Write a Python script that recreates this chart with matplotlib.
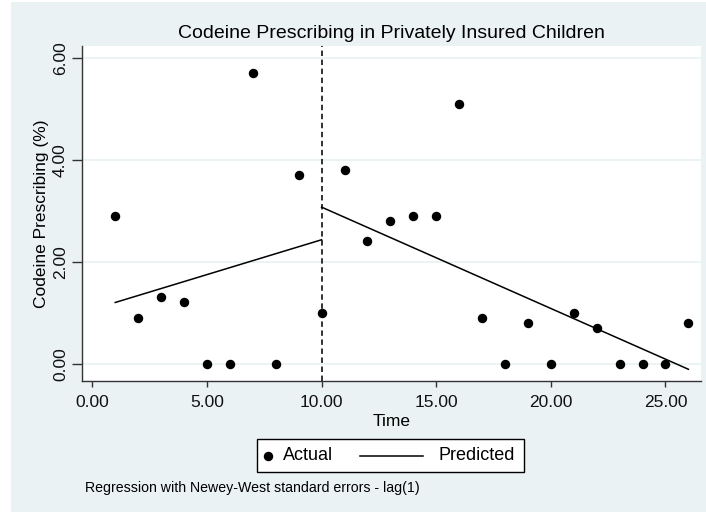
import matplotlib
matplotlib.use("Agg")
import matplotlib.pyplot as plt
from matplotlib.patches import Rectangle
from matplotlib.lines import Line2D

# ---------- data ----------
time = [1, 2, 3, 4, 5, 6, 7, 8, 9, 10, 11, 12, 13,
        14, 15, 16, 17, 18, 19, 20, 21, 22, 23, 24, 25, 26]
actual = [2.90, 0.90, 1.30, 1.20, 0.00, 0.00, 5.70, 0.00, 3.70, 1.00, 3.80, 2.40, 2.80,
          2.90, 2.90, 5.10, 0.90, 0.00, 0.80, 0.00, 1.00, 0.70, 0.00, 0.00, 0.00, 0.80]

# predicted segments (before / after intervention)
pre_time = [1, 10]
pre_pred = [1.20, 2.43]
post_time = [10, 26]
post_pred = [3.07, -0.11]

intervention = 10
xticks = [0, 5, 10, 15, 20, 25]
yticks = [0, 2, 4, 6]

plt.rcParams['font.family'] = ['Liberation Sans', 'DejaVu Sans']

W, H = 706, 512
BG = "#eaf2f3"
fig = plt.figure(figsize=(W / 100, H / 100), dpi=100)
fig.patch.set_facecolor("white")


def px(x, y):
    # pixel (from top-left) -> figure fraction
    return x / W, 1 - y / H


# outer stata-like background
fig.patches.append(Rectangle((11 / W, 0), 1 - 11 / W, 1 - 2 / H,
                             transform=fig.transFigure, facecolor=BG,
                             edgecolor="none", zorder=-10))

left, top = px(82, 46)
right, bottom = px(701, 381)
ax = fig.add_axes([left, bottom, right - left, top - bottom])
ax.set_facecolor("white")

ax.plot(time, actual, "o", color="black", ms=5.8, zorder=3)
ax.plot(pre_time, pre_pred, "-", color="black", lw=1.1, zorder=2)
ax.plot(post_time, post_pred, "-", color="black", lw=1.1, zorder=2)
ax.axvline(intervention, color="#222222", lw=1.3, ls=(0, (3, 2)), zorder=1)

ax.set_xlim(-0.45, 26.55)
ax.set_ylim(-0.34, 6.23)
ax.set_xticks(xticks)
ax.set_xticklabels([f"{v:.2f}" for v in xticks])
ax.set_yticks(yticks)
ax.set_yticklabels([f"{v:.2f}" for v in yticks], rotation=90, va="center")
ax.grid(axis="y", color=BG, lw=1.3)
ax.set_axisbelow(True)

for s in ["top", "right"]:
    ax.spines[s].set_visible(False)
for s in ["left", "bottom"]:
    ax.spines[s].set_color("#333333")
    ax.spines[s].set_linewidth(1.0)
ax.tick_params(axis="both", direction="out", length=4, width=1.0,
               color="#333333", labelsize=12.5, labelcolor="#111111")
ax.tick_params(axis="y", length=7, pad=3)
ax.tick_params(axis="x", pad=6)

ax.set_xlabel("Time", fontsize=12.5, labelpad=3)
ax.set_ylabel("Codeine Prescribing (%)", fontsize=12.5, labelpad=3)

fig.text(*px(391.5, 33), "Codeine Prescribing in Privately Insured Children",
         ha="center", va="center", fontsize=14)

# legend box (Stata style)
lx, ly = px(257, 472)
fig.patches.append(Rectangle((lx, ly), 267 / W, 33 / H, transform=fig.transFigure,
                             facecolor="white", edgecolor="black", lw=1.0))
fig.lines.append(Line2D([px(268, 0)[0]], [px(0, 455.5)[1]], marker="o", color="black",
                        ms=5.8, ls="none", transform=fig.transFigure))
fig.text(*px(283, 456), "Actual", ha="left", va="center", fontsize=13)
fig.lines.append(Line2D([px(360, 0)[0], px(423, 0)[0]], [px(0, 455.5)[1]] * 2,
                        color="black", lw=1.1, transform=fig.transFigure))
fig.text(*px(438, 456), "Predicted", ha="left", va="center", fontsize=13)

fig.text(*px(85, 488), "Regression with Newey-West standard errors - lag(1)",
         ha="left", va="center", fontsize=10.2)

fig.savefig("out.png", dpi=100, facecolor=fig.get_facecolor())
